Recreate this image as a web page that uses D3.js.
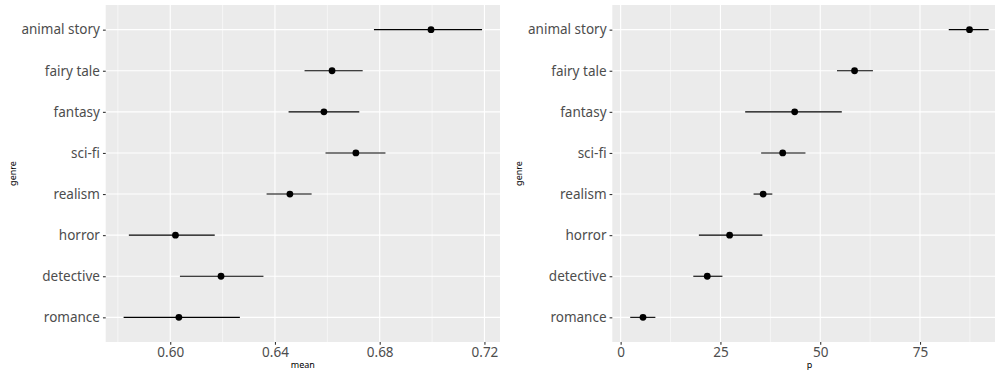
<!DOCTYPE html>
<html>
<head>
<meta charset="utf-8">
<script src="https://cdn.jsdelivr.net/npm/d3@7"></script>
<style>
  body { margin: 0; background: #fff; }
  text { font-family: "Noto Sans", sans-serif; }
</style>
</head>
<body>
<script>
const genres = ["animal story", "fairy tale", "fantasy", "sci-fi", "realism", "horror", "detective", "romance"];

// left panel: mean with interval
const meanVal = [0.6996, 0.6618, 0.6587, 0.6709, 0.6457, 0.6020, 0.6194, 0.6033];
const meanLo  = [0.6778, 0.6513, 0.6452, 0.6593, 0.6368, 0.5842, 0.6037, 0.5822];
const meanHi  = [0.7191, 0.6735, 0.6722, 0.6822, 0.6540, 0.6170, 0.6356, 0.6266];
const meanTicks = [0.60, 0.64, 0.68, 0.72];
const meanMinor = [0.58, 0.62, 0.66, 0.70];

// right panel: p with interval
const pVal = [87.4, 58.6, 43.6, 40.6, 35.7, 27.3, 21.7, 5.6];
const pLo  = [82.2, 54.2, 31.2, 35.2, 33.3, 19.6, 18.2, 2.4];
const pHi  = [92.2, 63.2, 55.4, 46.3, 38.0, 35.5, 25.5, 8.7];
const pTicks = [0, 25, 50, 75];
const pMinor = [12.5, 37.5, 62.5, 87.5];

const W = 995, H = 376;
const svg = d3.select("body").append("svg")
    .attr("width", W)
    .attr("height", H);

const panelTop = 5, panelBottom = 342;

function panel(left, width, vals, lo, hi, ticks, minor, fmt, xTitle, titleX) {
  const rows = genres.map((g, i) => ({g: g, v: vals[i], lo: lo[i], hi: hi[i]}));
  const mn = d3.min(lo), mx = d3.max(hi), pad = (mx - mn) * 0.05;

  const x = d3.scaleLinear()
      .domain([mn - pad, mx + pad])
      .range([left, left + width]);

  const y = d3.scalePoint()
      .domain(genres)
      .range([panelTop, panelBottom])
      .padding(0.6);

  const g = svg.append("g");

  g.append("rect")
    .attr("x", left).attr("y", panelTop)
    .attr("width", width).attr("height", panelBottom - panelTop)
    .attr("fill", "#EBEBEB");

  g.selectAll(".minor")
    .data(minor)
    .enter().append("line")
    .attr("x1", d => x(d)).attr("x2", d => x(d))
    .attr("y1", panelTop).attr("y2", panelBottom)
    .attr("stroke", "#fff").attr("stroke-width", 0.55);

  g.selectAll(".majx")
    .data(ticks)
    .enter().append("line")
    .attr("x1", d => x(d)).attr("x2", d => x(d))
    .attr("y1", panelTop).attr("y2", panelBottom)
    .attr("stroke", "#fff").attr("stroke-width", 1.1);

  g.selectAll(".majy")
    .data(genres)
    .enter().append("line")
    .attr("x1", left).attr("x2", left + width)
    .attr("y1", d => y(d)).attr("y2", d => y(d))
    .attr("stroke", "#fff").attr("stroke-width", 1.1);

  // intervals
  g.selectAll(".bar")
    .data(rows)
    .enter().append("line")
    .attr("x1", d => x(d.lo)).attr("x2", d => x(d.hi))
    .attr("y1", d => y(d.g)).attr("y2", d => y(d.g))
    .attr("stroke", "#000").attr("stroke-width", 1.1);

  g.selectAll(".dot")
    .data(rows)
    .enter().append("circle")
    .attr("cx", d => x(d.v))
    .attr("cy", d => y(d.g))
    .attr("r", 3.4)
    .attr("fill", "#000");

  // x axis
  const xAxis = g.append("g")
    .attr("transform", "translate(0," + panelBottom + ")")
    .call(d3.axisBottom(x).tickValues(ticks).tickFormat(fmt).tickSize(2.75).tickPadding(3));
  xAxis.select(".domain").remove();
  xAxis.selectAll("line").attr("stroke", "#333").attr("stroke-width", 1.1);
  xAxis.selectAll("text").attr("fill", "#4D4D4D").style("font-size", "13.5px")
    .style("font-family", "Noto Sans");

  // y axis
  const yAxis = g.append("g")
    .attr("transform", "translate(" + left + ",0)")
    .call(d3.axisLeft(y).tickSize(2.75).tickPadding(3));
  yAxis.select(".domain").remove();
  yAxis.selectAll("line").attr("stroke", "#333").attr("stroke-width", 1.1);
  yAxis.selectAll("text").attr("fill", "#4D4D4D").style("font-size", "13.5px")
    .style("font-family", "Noto Sans");

  g.append("text")
    .attr("x", left + width / 2)
    .attr("y", 368)
    .attr("text-anchor", "middle")
    .style("font-size", "9px")
    .text(xTitle);

  g.append("text")
    .attr("transform", "translate(" + titleX + "," + ((panelTop + panelBottom) / 2) + ") rotate(-90)")
    .attr("text-anchor", "middle")
    .style("font-size", "9px")
    .text("genre");

  return x;
}

panel(105.7, 394.3, meanVal, meanLo, meanHi, meanTicks, meanMinor, d3.format(".2f"), "mean", 16);
panel(612.3, 394.3, pVal, pLo, pHi, pTicks, pMinor, d3.format("d"), "p", 522);
</script>
</body>
</html>
